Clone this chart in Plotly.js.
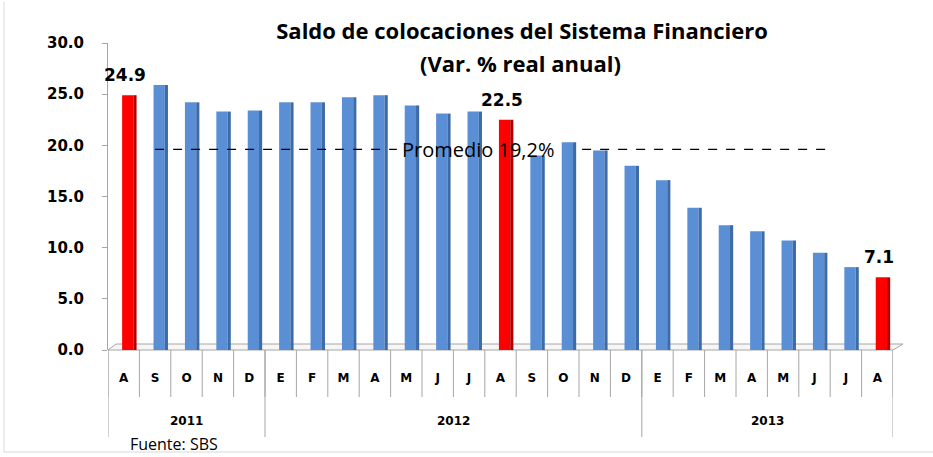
<!DOCTYPE html>
<html>
<head>
<meta charset="utf-8">
<script src="https://cdn.plot.ly/plotly-3.0.1.min.js"></script>
<style>html,body{margin:0;padding:0;background:#fff;}#chart{width:933px;height:457px;}</style>
</head>
<body>
<div id="chart"></div>
<script>
// ---- data ----
const months = ['A','S','O','N','D','E','F','M','A','M','J','J','A','S','O','N','D','E','F','M','A','M','J','J','A'];
const values = [24.9,25.9,24.2,23.3,23.4,24.2,24.2,24.7,24.9,23.9,23.1,23.3,22.5,19.0,20.3,19.5,18.0,16.6,13.9,12.2,11.6,10.7,9.5,8.1,7.1];
const highlighted = [0,12,24];
const years = ['2011','2012','2013'];
const yearStart = [0,5,17];
const yearEnd = [4,16,24];
const promedio = 19.2;
const promedioLabel = 'Promedio 19,2%';
const yTicks = [0,5,10,15,20,25,30];
const titleLine1 = 'Saldo de colocaciones del Sistema Financiero';
const titleLine2 = '(Var. % real anual)';
const fuente = 'Fuente: SBS';

// ---- layout helpers ----
const W = 933, H = 457;
const M = {l:108, r:40, t:43, b:107};
const PW = W - M.l - M.r, PH = H - M.t - M.b;
const px2paperX = p => (p - M.l) / PW;
const py2paperY = p => (H - M.b - p) / PH;

const idx = months.map((_, i) => i);
const blueY = values.map((v, i) => highlighted.includes(i) ? null : v);
const redY = values.map((v, i) => highlighted.includes(i) ? v : null);

const BLUE = '#5A8FD6', BLUE_D = '#3D6BA6', RED = '#FF0000', RED_D = '#B30000';
const barW = 0.36, barOff = -0.05, sideW = 0.1, sideOff = 0.31;

const traces = [
  {type:'bar', x: idx, y: blueY, width: barW, offset: barOff, marker:{color: BLUE}, hoverinfo:'skip'},
  {type:'bar', x: idx, y: blueY, width: sideW, offset: sideOff, marker:{color: BLUE_D}, hoverinfo:'skip'},
  {type:'bar', x: idx, y: redY, width: barW, offset: barOff, marker:{color: RED}, hoverinfo:'skip'},
  {type:'bar', x: idx, y: redY, width: sideW, offset: sideOff, marker:{color: RED_D}, hoverinfo:'skip'}
];

const shapes = [];
const annotations = [];
const GRAY = '#A6A6A6';

// month separators
for (let i = 0; i <= months.length; i++) {
  shapes.push({type:'line', xref:'x', yref:'paper', x0: i - 0.5, x1: i - 0.5,
    y0: 0, y1: py2paperY(397), line:{color: GRAY, width: 1}});
}
// year separators
yearStart.forEach((s, k) => {
  shapes.push({type:'line', xref:'x', yref:'paper', x0: s - 0.5, x1: s - 0.5,
    y0: 0, y1: py2paperY(437), line:{color: GRAY, width: 1}});
  annotations.push({xref:'x', yref:'paper', x: (s + yearEnd[k]) / 2, y: py2paperY(421), yanchor:'middle',
    text: years[k], showarrow:false, font:{family:'DejaVu Sans', size:12, weight:'bold', color:'#000'}});
});
shapes.push({type:'line', xref:'x', yref:'paper', x0: yearEnd[yearEnd.length-1] + 0.5, x1: yearEnd[yearEnd.length-1] + 0.5,
  y0: 0, y1: py2paperY(437), line:{color: GRAY, width: 1}});

// floor of 3D
shapes.push({type:'path', xref:'paper', yref:'paper',
  path: `M ${px2paperX(108)} ${py2paperY(350)} L ${px2paperX(116)} ${py2paperY(344)} L ${px2paperX(903)} ${py2paperY(344)} L ${px2paperX(893)} ${py2paperY(350)} Z`,
  line:{color: GRAY, width: 1}, fillcolor:'rgba(240,240,240,0.6)', layer:'below'});

// promedio line (drawn at perspective-adjusted height)
const promLineY = promedio + 0.4;
shapes.push({type:'line', xref:'x', yref:'y', x0: 1.0, x1: 8.7, y0: promLineY, y1: promLineY,
  line:{color:'#000', width:1.2, dash:'dash'}, layer:'above'});
shapes.push({type:'line', xref:'x', yref:'y', x0: 14.6, x1: 22.5, y0: promLineY, y1: promLineY,
  line:{color:'#000', width:1.2, dash:'dash'}, layer:'above'});
annotations.push({xref:'x', yref:'y', x: 11.3, y: promLineY, yanchor:'middle', text: promedioLabel, showarrow:false,
  font:{family:'Open Sans', size:20, color:'#000'}});

// value labels on highlighted bars
highlighted.forEach(i => {
  annotations.push({xref:'x', yref:'y', x: i + 0.05, y: values[i] + 1.95, yanchor:'middle', text: values[i].toFixed(1),
    showarrow:false, font:{family:'DejaVu Sans', size:17, weight:'bold', color:'#000'}});
});

// second title line
annotations.push({xref:'paper', yref:'paper', x: px2paperX(520), y: py2paperY(63), yanchor:'middle', xanchor:'center',
  text: '<b>' + titleLine2 + '</b>', showarrow:false, font:{family:'Open Sans', size:22, color:'#000'}});

// chart frame
shapes.push({type:'line', xref:'paper', yref:'paper', x0: px2paperX(4), x1: px2paperX(4), y0: py2paperY(2), y1: py2paperY(452),
  line:{color:'#D9D9D9', width:1}});
shapes.push({type:'line', xref:'paper', yref:'paper', x0: px2paperX(4), x1: px2paperX(933), y0: py2paperY(452), y1: py2paperY(452),
  line:{color:'#D9D9D9', width:1}});

annotations.push({xref:'paper', yref:'paper', x: px2paperX(128), y: py2paperY(444), xanchor:'left', yanchor:'middle',
  text: fuente, showarrow:false, font:{family:'Open Sans', size:16, color:'#000'}});

const layout = {
  width: W, height: H,
  margin: M,
  paper_bgcolor:'#fff', plot_bgcolor:'#fff',
  showlegend:false,
  barmode:'overlay',
  title:{text:'<b>' + titleLine1 + '</b>',
    x: 522/W, xanchor:'center', xref:'container', y: 1 - 31/H, yanchor:'middle', yref:'container',
    font:{family:'Open Sans', size:22, color:'#000'}},
  xaxis:{
    range:[-0.5, months.length - 0.5], tickmode:'array', tickvals: idx, ticktext: months,
    ticks:'', showgrid:false, zeroline:false, showline:false,
    tickfont:{family:'DejaVu Sans', size:12, weight:'bold', color:'#000'},
    ticklabelstandoff: 19, fixedrange:true
  },
  yaxis:{
    range:[0,30], tickmode:'array', tickvals: yTicks, ticktext: yTicks.map(v => v.toFixed(1)),
    ticks:'outside', ticklen:5, tickcolor: GRAY, showline:true, linecolor: GRAY, linewidth:1,
    showgrid:false, zeroline:false,
    tickfont:{family:'DejaVu Sans', size:15, weight:'bold', color:'#000'},
    ticklabelstandoff: 15, fixedrange:true
  },
  shapes, annotations
};

Plotly.newPlot('chart', traces, layout, {displayModeBar:false, staticPlot:true});
</script>
</body>
</html>
